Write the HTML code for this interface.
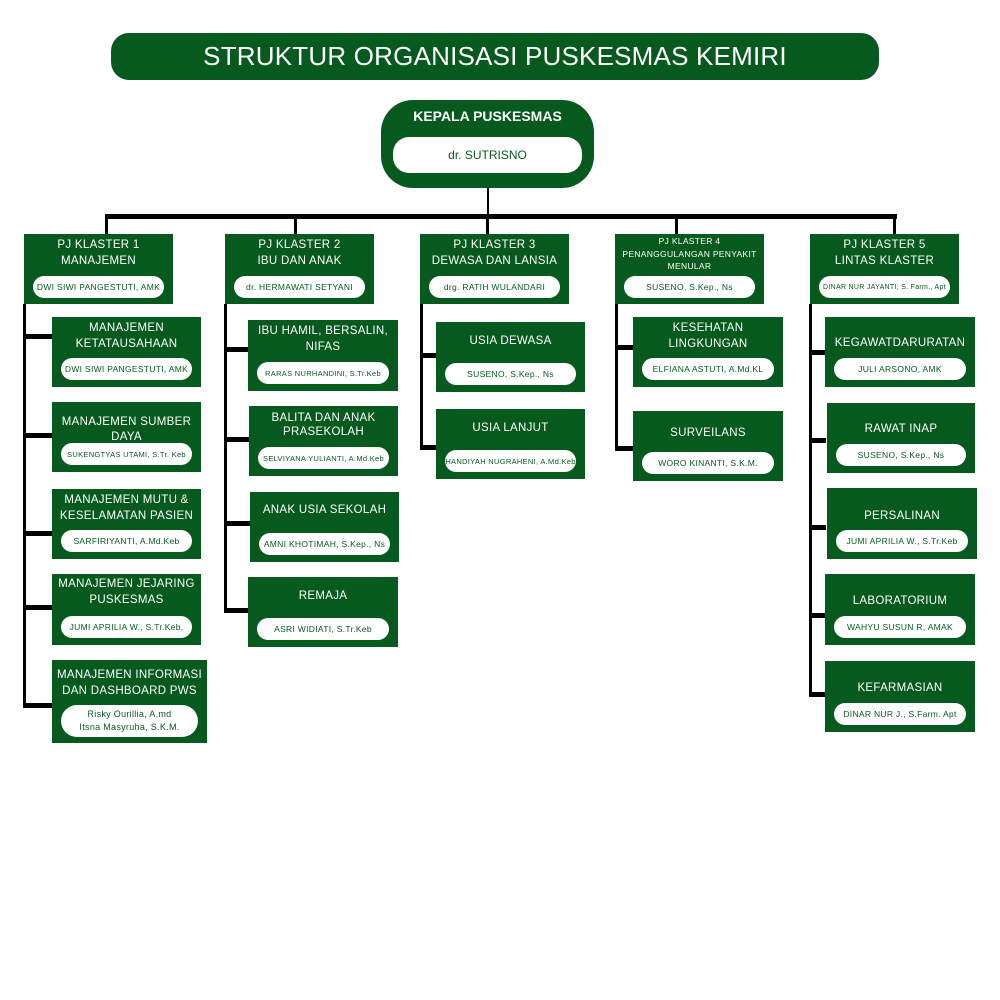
<!DOCTYPE html>
<html><head><meta charset="utf-8"><style>
*{margin:0;padding:0;box-sizing:border-box}
body{width:1000px;height:1000px;background:#fff;position:relative;overflow:hidden;font-family:"Liberation Sans",sans-serif}
.a{position:absolute}
.g{background:#075a1e}
.k{background:#000}
.b{position:absolute;background:#075a1e;color:#fff;text-align:center;font-size:11.5px;line-height:16px;letter-spacing:0.3px}
.b .t{position:absolute;left:0;right:0}
.p{position:absolute;left:9px;right:9px;height:22px;bottom:7px;background:#fff;border-radius:11px;color:#075a1e;font-size:8.5px;display:flex;align-items:center;justify-content:center;line-height:11px;white-space:nowrap}
</style></head><body>
<div class="a g" style="left:111px;top:33px;width:768px;height:47px;border-radius:18px;color:#fff;font-size:26px;text-align:center;line-height:47px;letter-spacing:0.2px">STRUKTUR ORGANISASI PUSKESMAS KEMIRI</div>
<div class="a g" style="left:381px;top:100px;width:213px;height:88px;border-radius:32px"></div>
<div class="a" style="left:381px;top:108px;width:213px;text-align:center;color:#fff;font-weight:bold;font-size:14px">KEPALA PUSKESMAS</div>
<div class="a" style="left:393px;top:137px;width:189px;height:36px;background:#fff;border-radius:16px;color:#075a1e;font-size:12px;text-align:center;line-height:36px">dr. SUTRISNO</div>
<!-- connectors -->
<div class="a k" style="left:487px;top:188px;width:2px;height:28px"></div>
<div class="a k" style="left:105px;top:214px;width:792px;height:5px"></div>
<div class="a k" style="left:105px;top:214px;width:3px;height:20px"></div>
<div class="a k" style="left:294px;top:214px;width:3px;height:20px"></div>
<div class="a k" style="left:486px;top:214px;width:3px;height:20px"></div>
<div class="a k" style="left:675px;top:214px;width:3px;height:20px"></div>
<div class="a k" style="left:893px;top:214px;width:3px;height:20px"></div>
<!-- col verticals -->
<div class="a k" style="left:23px;top:304px;width:3px;height:404px"></div>
<div class="a k" style="left:224px;top:304px;width:3px;height:308px"></div>
<div class="a k" style="left:420px;top:304px;width:3px;height:145px"></div>
<div class="a k" style="left:615px;top:304px;width:3px;height:147px"></div>
<div class="a k" style="left:809px;top:304px;width:3px;height:393px"></div>
<!-- col1 h -->
<div class="a k" style="left:23px;top:334px;width:30px;height:5px"></div>
<div class="a k" style="left:23px;top:433px;width:30px;height:5px"></div>
<div class="a k" style="left:23px;top:531px;width:30px;height:5px"></div>
<div class="a k" style="left:23px;top:605px;width:30px;height:5px"></div>
<div class="a k" style="left:23px;top:703px;width:30px;height:5px"></div>
<!-- col2 h -->
<div class="a k" style="left:224px;top:347px;width:26px;height:5px"></div>
<div class="a k" style="left:224px;top:437px;width:26px;height:5px"></div>
<div class="a k" style="left:224px;top:521px;width:26px;height:5px"></div>
<div class="a k" style="left:224px;top:608px;width:26px;height:5px"></div>
<!-- col3 h -->
<div class="a k" style="left:420px;top:353px;width:17px;height:5px"></div>
<div class="a k" style="left:420px;top:445px;width:17px;height:5px"></div>
<!-- col4 h -->
<div class="a k" style="left:615px;top:345px;width:19px;height:5px"></div>
<div class="a k" style="left:615px;top:446px;width:19px;height:5px"></div>
<!-- col5 h -->
<div class="a k" style="left:809px;top:350px;width:17px;height:5px"></div>
<div class="a k" style="left:809px;top:438px;width:17px;height:5px"></div>
<div class="a k" style="left:809px;top:525px;width:17px;height:5px"></div>
<div class="a k" style="left:809px;top:613px;width:17px;height:5px"></div>
<div class="a k" style="left:809px;top:692px;width:17px;height:5px"></div>

<!-- klaster heads -->
<div class="b" style="left:24px;top:234px;width:149px;height:70px"><div class="t" style="top:3px">PJ KLASTER 1<br>MANAJEMEN</div><div class="p" style="bottom:6px">DWI SIWI PANGESTUTI, AMK</div></div>
<div class="b" style="left:225px;top:234px;width:149px;height:70px"><div class="t" style="top:3px">PJ KLASTER 2<br>IBU DAN ANAK</div><div class="p" style="bottom:6px">dr. HERMAWATI SETYANI</div></div>
<div class="b" style="left:420px;top:234px;width:149px;height:70px"><div class="t" style="top:3px">PJ KLASTER 3<br>DEWASA DAN LANSIA</div><div class="p" style="bottom:6px">drg. RATIH WULANDARI</div></div>
<div class="b" style="left:615px;top:234px;width:149px;height:70px;font-size:8.5px;line-height:12.5px"><div class="t" style="top:1px">PJ KLASTER 4<br>PENANGGULANGAN PENYAKIT<br>MENULAR</div><div class="p" style="bottom:6px">SUSENO, S.Kep., Ns</div></div>
<div class="b" style="left:810px;top:234px;width:149px;height:70px"><div class="t" style="top:3px">PJ KLASTER 5<br>LINTAS KLASTER</div><div class="p" style="bottom:6px;font-size:7px">DINAR NUR JAYANTI, S. Farm., Apt</div></div>

<!-- col1 -->
<div class="b" style="left:52px;top:317px;width:149px;height:70px"><div class="t" style="top:3px">MANAJEMEN<br>KETATAUSAHAAN</div><div class="p">DWI SIWI PANGESTUTI, AMK</div></div>
<div class="b" style="left:52px;top:402px;width:149px;height:70px"><div class="t" style="top:13px;line-height:15px">MANAJEMEN SUMBER<br>DAYA</div><div class="p" style="font-size:7.5px">SUKENGTYAS UTAMI, S.Tr. Keb</div></div>
<div class="b" style="left:52px;top:489px;width:149px;height:70px"><div class="t" style="top:3px">MANAJEMEN MUTU &amp;<br>KESELAMATAN PASIEN</div><div class="p">SARFIRIYANTI, A.Md.Keb</div></div>
<div class="b" style="left:52px;top:574px;width:149px;height:71px"><div class="t" style="top:2px">MANAJEMEN JEJARING<br>PUSKESMAS</div><div class="p">JUMI APRILIA W., S.Tr.Keb,</div></div>
<div class="b" style="left:52px;top:660px;width:155px;height:83px"><div class="t" style="top:7px">MANAJEMEN INFORMASI<br>DAN DASHBOARD PWS</div><div class="p" style="height:32px;border-radius:16px;left:9px;right:9px;bottom:6px;line-height:13px;text-align:center;font-size:9px">Risky Ourillia, A.md<br>Itsna Masyruha, S.K.M.</div></div>
<!-- col2 -->
<div class="b" style="left:248px;top:320px;width:150px;height:71px"><div class="t" style="top:3px">IBU HAMIL, BERSALIN,<br>NIFAS</div><div class="p" style="font-size:7.5px">RARAS NURHANDINI, S.Tr.Keb</div></div>
<div class="b" style="left:249px;top:406px;width:149px;height:70px"><div class="t" style="top:5px;line-height:14px">BALITA DAN ANAK<br>PRASEKOLAH</div><div class="p" style="font-size:7.5px">SELVIYANA YULIANTI, A.Md.Keb</div></div>
<div class="b" style="left:250px;top:492px;width:149px;height:70px"><div class="t" style="top:10px">ANAK USIA SEKOLAH</div><div class="p">AMNI KHOTIMAH, S.Kep., Ns</div></div>
<div class="b" style="left:248px;top:577px;width:150px;height:70px"><div class="t" style="top:11px">REMAJA</div><div class="p">ASRI WIDIATI, S.Tr.Keb</div></div>
<!-- col3 -->
<div class="b" style="left:436px;top:322px;width:149px;height:70px"><div class="t" style="top:11px">USIA DEWASA</div><div class="p">SUSENO, S.Kep., Ns</div></div>
<div class="b" style="left:436px;top:409px;width:149px;height:70px"><div class="t" style="top:11px">USIA LANJUT</div><div class="p" style="font-size:7.5px">HANDIYAH NUGRAHENI, A.Md.Keb</div></div>
<!-- col4 -->
<div class="b" style="left:633px;top:317px;width:150px;height:70px"><div class="t" style="top:3px">KESEHATAN<br>LINGKUNGAN</div><div class="p">ELFIANA ASTUTI, A.Md.KL</div></div>
<div class="b" style="left:633px;top:411px;width:150px;height:70px"><div class="t" style="top:14px">SURVEILANS</div><div class="p">WORO KINANTI, S.K.M.</div></div>
<!-- col5 -->
<div class="b" style="left:825px;top:317px;width:150px;height:70px"><div class="t" style="top:18px">KEGAWATDARURATAN</div><div class="p">JULI ARSONO, AMK</div></div>
<div class="b" style="left:827px;top:403px;width:148px;height:70px"><div class="t" style="top:18px">RAWAT INAP</div><div class="p">SUSENO, S.Kep., Ns</div></div>
<div class="b" style="left:827px;top:488px;width:150px;height:71px"><div class="t" style="top:20px">PERSALINAN</div><div class="p">JUMI APRILIA W., S.Tr.Keb</div></div>
<div class="b" style="left:825px;top:574px;width:150px;height:71px"><div class="t" style="top:19px">LABORATORIUM</div><div class="p">WAHYU SUSUN R, AMAK</div></div>
<div class="b" style="left:825px;top:661px;width:150px;height:71px"><div class="t" style="top:19px">KEFARMASIAN</div><div class="p">DINAR NUR J., S.Farm. Apt</div></div>
</body></html>
